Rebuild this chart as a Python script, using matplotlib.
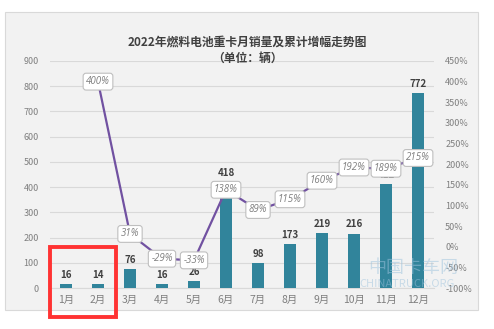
import matplotlib.pyplot as plt, numpy as np
from matplotlib.patches import Rectangle

plt.rcParams['font.family'] = ['Noto Sans CJK SC', 'DejaVu Sans']

# Data
months = ['1月', '2月', '3月', '4月', '5月', '6月', '7月', '8月', '9月', '10月', '11月', '12月']
sales = [16, 14, 76, 16, 26, 418, 98, 173, 219, 216, 412, 772]
growth_months = months[1:]
growth = [400, 31, -29, -33, 138, 89, 115, 160, 192, 189, 215]  # %

W, H = 494, 329
fig = plt.figure(figsize=(W/100, H/100), dpi=100)

# Chart area background
fig.patches.append(Rectangle((5/W, 1-310/H), 473/W, 298/H, transform=fig.transFigure,
                             facecolor='#f2f2f2', edgecolor='#d9d9d9', lw=0.8, zorder=-5))

ax = fig.add_axes([50/W, 1-288/H, 384/W, 227/H])
ax.set_facecolor('none')
x = np.arange(len(months))
ax.bar(x, sales, width=0.4, color='#31849b', zorder=3)
ax.set_xlim(-0.5, len(months)-0.5)
ax.set_ylim(0, 900)
ax.set_yticks(range(0, 901, 100))
ax.set_xticks(x)
ax.set_xticklabels(months)
ax.grid(axis='y', color='#d9d9d9', lw=0.8, zorder=0)
for s in ax.spines.values():
    s.set_visible(False)
ax.spines['bottom'].set_visible(True)
ax.spines['bottom'].set_color('#d9d9d9')
ax.tick_params(length=0, labelsize=6.5, labelcolor='#7f7f7f', pad=8)
ax.tick_params(axis='x', labelsize=7.5, pad=5)
for xi, v in zip(x, sales):
    ax.annotate(str(v), (xi, v), xytext=(0, 3), textcoords='offset points',
                ha='center', va='bottom', fontsize=7, fontweight='bold', color='#404040')

ax2 = ax.twinx()
ax2.set_ylim(-100, 450)
ax2.set_yticks(range(-100, 451, 50))
ax2.set_yticklabels([f'{t}%' for t in range(-100, 451, 50)])
for s in ax2.spines.values():
    s.set_visible(False)
ax2.tick_params(length=0, labelsize=6.5, labelcolor='#7f7f7f', pad=8)
gx = x[1:]
ax2.plot(gx, growth, color='#7151a1', lw=1.6, zorder=4)
for xi, g in zip(gx, growth):
    ax2.text(xi, g, f'{g}%', ha='center', va='center', fontsize=7, style='italic',
             family=['Open Sans', 'DejaVu Sans'], color='#7f7f7f', zorder=5,
             bbox=dict(boxstyle='round,pad=0.3,rounding_size=0.3', fc='white', ec='#bfbfbf', lw=0.8))

fig.text(0.5, 1-42/H, '2022年燃料电池重卡月销量及累计增幅走势图', ha='center', va='center',
         fontsize=8.5, fontweight='bold', color='#404040')
fig.text(0.5, 1-58/H, '（单位：辆）', ha='center', va='center',
         fontsize=8.5, fontweight='bold', color='#404040')

# Watermark
fig.text(458/W, 1-268/H, '中国卡车网', ha='right', va='center', fontsize=13,
         color='#9ec3dd', alpha=0.5)
fig.text(455/W, 1-284/H, 'CHINATRUCK.ORG', ha='right', va='center', fontsize=8,
         color='#9ec3dd', alpha=0.5)

# Red highlight box
fig.patches.append(Rectangle((49.5/W, 1-316.5/H), 66/W, 70/H, transform=fig.transFigure,
                             facecolor='none', edgecolor='#ff3333', lw=2.8, zorder=10))

fig.savefig('out.png', dpi=100)
